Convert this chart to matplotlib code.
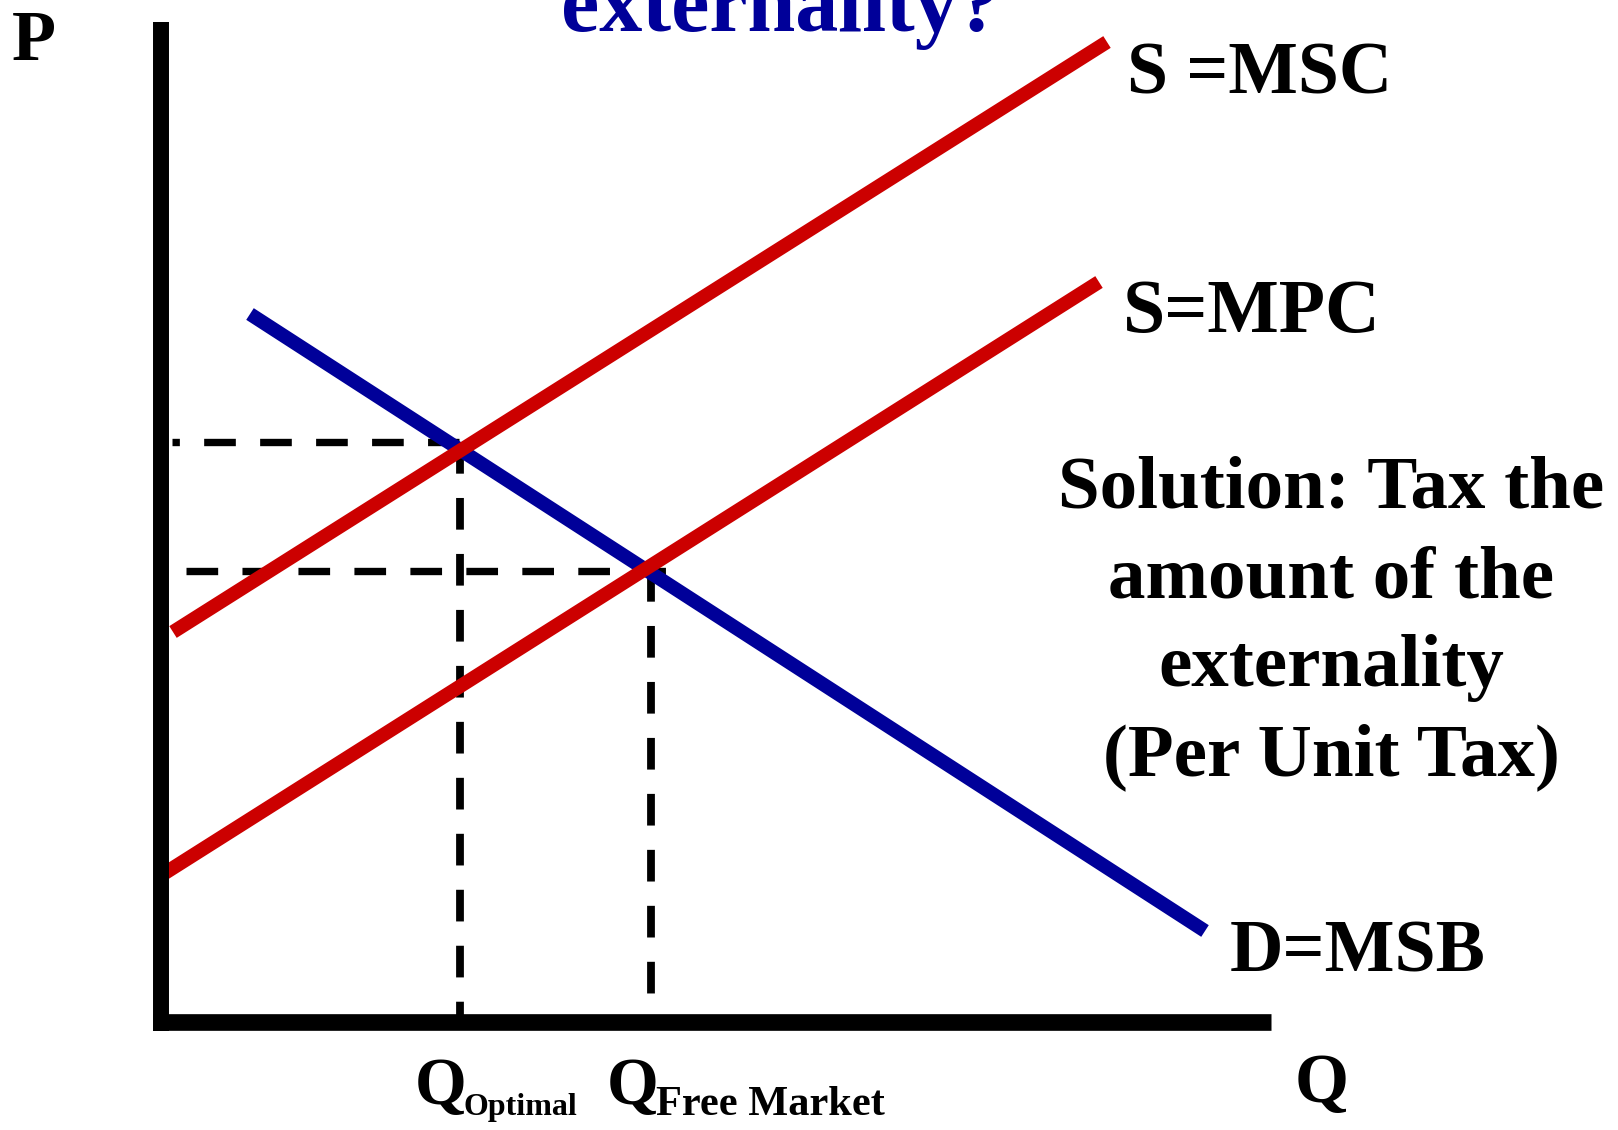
import matplotlib
matplotlib.use("Agg")
import matplotlib.pyplot as plt

plt.rcParams['font.family'] = ['Liberation Serif', 'DejaVu Serif']
plt.rcParams['font.weight'] = 'bold'
plt.rcParams['lines.scale_dashes'] = False

# curves as (Q, P) end points, origin at the axis corner
msc_q = [12, 946]
msc_p = [390, 980]
mpc_q = [4, 938]
mpc_p = [149, 740]
msb_q = [89, 1044]
msb_p = [708, 91]

# equilibria
q_opt, p_opt = 298, 580
q_fm, p_fm = 490, 451

curve_labels = ['S =MSC', 'S=MPC', 'D=MSB']
note_lines = ['Solution: Tax the', 'amount of the', 'externality', '(Per Unit Tax)']

RED = '#CC0000'
BLUE = '#000099'

fig = plt.figure(figsize=(16.18, 11.30), dpi=100)
ax = fig.add_axes([0, 0, 1, 1])
ax.set_xlim(-161, 1457)
ax.set_ylim(-108, 1022)
ax.axis('off')

# dashed guides
dash = (22.8, 17.5)
ax.plot([10.7, q_opt], [p_opt, p_opt], color='black', lw=5.3,
        linestyle=(17.5, dash), dash_capstyle='butt')
ax.plot([25, q_fm + 15], [p_fm, p_fm], color='black', lw=5.3,
        linestyle=(0, dash), dash_capstyle='butt')
ax.plot([q_opt + 1, q_opt + 1], [p_opt, 0], color='black', lw=5.6,
        linestyle=(0, dash), dash_capstyle='butt')
ax.plot([q_fm, q_fm], [p_fm + 1, 28], color='black', lw=5.6,
        linestyle=(0, dash), dash_capstyle='butt')

# curves
ax.plot(msb_q, msb_p, color=BLUE, lw=10, solid_capstyle='butt')
ax.plot(msc_q, msc_p, color=RED, lw=10, solid_capstyle='butt')
ax.plot(mpc_q, mpc_p, color=RED, lw=10, solid_capstyle='butt')

# axes
ax.plot([0, 0], [-9, 1000], color='black', lw=11.5, solid_capstyle='butt')
ax.plot([-8, 1110], [0, 0], color='black', lw=12, solid_capstyle='butt')

# text (title is cut off by the top edge, as in the original slide)
ax.text(620, 991, 'externality?', color=BLUE, fontsize=62, ha='center', va='baseline')
ax.text(-149, 962, 'P', fontsize=52, va='baseline')
ax.text(1134, -80, 'Q', fontsize=50, va='baseline')

ax.text(966, 929, curve_labels[0], fontsize=53, va='baseline')
ax.text(962, 690, curve_labels[1], fontsize=54.5, va='baseline')
ax.text(1069, 50, curve_labels[2], fontsize=53.3, va='baseline')

for i, line in enumerate(note_lines):
    ax.text(1170, 514 - 89 * i, line, fontsize=54, ha='center', va='baseline')

ax.text(254, -82, 'Q', fontsize=48, va='baseline')
ax.text(303, -93, 'Optimal', fontsize=23, va='baseline')
ax.text(446, -82, 'Q', fontsize=48, va='baseline')
ax.text(495, -93, 'Free Market', fontsize=30.5, va='baseline')

fig.savefig('out.png', dpi=100)
